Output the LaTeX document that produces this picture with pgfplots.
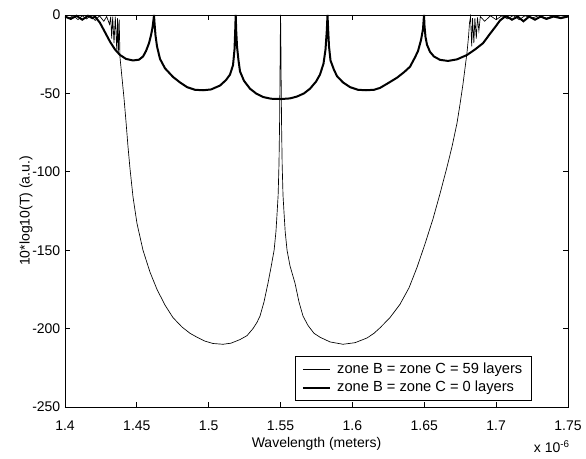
\documentclass[border=0pt]{standalone}
\usepackage{pgfplots}
\pgfplotsset{compat=1.18}
\usepackage{fontspec}
\setmainfont{Liberation Sans}

\pgfplotstableread{
x y
1.4000 -0.5
1.4030 -2
1.4060 -0.3
1.4090 -3
1.4120 -0.5
1.4150 -2.5
1.4180 -0.3
1.4210 -3.5
1.4240 -0.5
1.4270 -4
1.4290 -1
1.4310 -6
1.4318 -1
1.4325 -15
1.4332 -1
1.4341 -18
1.4350 -1
1.4360 -22
1.4366 -2
1.4371 -25
1.4377 -3
1.43827 -27
1.43966 -40
1.44105 -53
1.44245 -68
1.44384 -84
1.44523 -98
1.44732 -116
1.45010 -133
1.45427 -150
1.45915 -164
1.46402 -175
1.46958 -185
1.47515 -193
1.48141 -199
1.48698 -203
1.49185 -205.5
1.49742 -208
1.50298 -209.5
1.50994 -210
1.51551 -209.3
1.52177 -207
1.52664 -204.5
1.53082 -200
1.53360 -196
1.53569 -192
1.53847 -183
1.54125 -171
1.54334 -161
1.5455 -150
1.5468 -138
1.5476 -126
1.5483 -115
1.5489 -95
1.5493 -70
1.5496 -40
1.5498 -15
1.5500 0
1.5502 -15
1.5504 -40
1.5507 -70
1.5511 -95
1.5517 -115
1.5524 -126
1.5532 -138
1.5545 -150
1.55656 -160
1.56004 -171
1.56282 -183
1.56561 -192
1.56909 -198
1.57326 -203
1.57744 -205.5
1.58440 -208.5
1.59344 -210
1.60179 -209
1.61014 -206
1.61501 -203
1.61919 -199.5
1.62614 -193
1.63310 -184.5
1.63937 -174
1.64493 -161
1.65050 -146
1.65607 -130
1.66093 -114
1.66581 -97
1.66929 -84
1.67276 -69
1.67485 -57
1.67694 -44
1.67833 -34
1.67972 -24
1.68077 -14
1.68147 -5
1.6822 -1
1.6830 -20
1.6836 -2
1.6845 -18
1.6852 -2
1.6862 -15
1.6870 -1.5
1.6880 -10
1.6890 -1
1.6920 -4
1.6960 -0.5
1.7000 -3
1.7040 -0.5
1.7080 -2.5
1.7120 -0.3
1.7160 -3
1.7200 -0.5
1.7250 -2
1.7300 -0.3
1.7350 -2
1.7400 -0.3
1.7450 -1.5
1.7500 -0.5
}\thin

\pgfplotstableread{
x y
1.4000 -1
1.4040 -2.5
1.4080 -0.5
1.4120 -3
1.4160 -0.5
1.4190 -2
1.42087 -1
1.42435 -5
1.42783 -11
1.43131 -17
1.43479 -22
1.43827 -25.5
1.44245 -28
1.44732 -29
1.45149 -28.5
1.45427 -26.5
1.45636 -23
1.45845 -18
1.45984 -13
1.46089 -8
1.46158 -3
1.46193 0
1.46228 -5
1.46297 -13
1.46402 -20
1.46611 -28
1.46958 -34
1.47515 -39.5
1.48002 -43
1.48489 -46
1.49046 -47.7
1.49603 -48
1.50159 -47.5
1.50786 -45
1.51203 -41.5
1.51482 -38
1.51691 -32
1.51795 -22
1.51844 -10
1.51878 0
1.51913 -10
1.51969 -20
1.52073 -29
1.52178 -36
1.52456 -42
1.52873 -47
1.53291 -50
1.53778 -52.3
1.54335 -53.4
1.55031 -53.6
1.55657 -53.2
1.56144 -52
1.56631 -50
1.57049 -47
1.57466 -42.5
1.57744 -38
1.57988 -31
1.58127 -22
1.58217 -10
1.58266 0
1.58315 -10
1.58370 -20
1.58475 -29
1.58718 -35
1.58927 -39
1.59344 -43
1.59832 -46
1.60388 -47.7
1.60945 -48
1.61502 -47.7
1.61920 -46.5
1.62476 -43.5
1.63102 -40
1.63589 -36.5
1.64007 -33
1.64355 -27
1.64563 -23
1.64772 -16
1.64911 -9
1.64981 0
1.65016 -7
1.65085 -14
1.65190 -19
1.65398 -23.5
1.65677 -26.5
1.66094 -28.6
1.66650 -29.3
1.67277 -28.3
1.67973 -25.5
1.68529 -22
1.69086 -18
1.69573 -12
1.69990 -7
1.70269 -3.5
1.70547 -1.5
1.70756 -1
1.7110 -3
1.7150 -1
1.7190 -4
1.7230 -1
1.7270 -3
1.7310 -1
1.7350 -2.5
1.7400 -1
1.7450 -2
1.7500 -1
}\thick

\begin{document}
\begin{tikzpicture}
\begin{axis}[
  scale only axis, width=377.25pt, height=294pt,
  xmin=1.4, xmax=1.75, ymin=-250, ymax=0,
  xtick={1.4,1.45,1.5,1.55,1.6,1.65,1.7,1.75},
  xticklabels={1.4,1.45,1.5,1.55,1.6,1.65,1.7,1.75},
  ytick={-250,-200,-150,-100,-50,0},
  yticklabels={-250,-200,-150,-100,-50,0},
  tick align=inside, major tick length=3.75pt,
  tick style={black, line width=0.6pt},
  axis line style={line width=0.6pt},
  every tick label/.append style={font=\fontsize{10.5}{12.5}\selectfont},
  xticklabel style={yshift=-7pt},
  xlabel={Wavelength (meters)},
  ylabel={10*log10(T) (a.u.)},
  xlabel shift=-2pt,
  ylabel shift=-7pt,
  label style={font=\fontsize{10.5}{12.5}\selectfont},
  legend cell align=left,
  legend image code/.code={\draw[#1] (0pt,0pt) -- (20pt,0pt); \path (23pt,0pt);},
  legend style={at={(1,0)}, anchor=south east, xshift=-27pt, yshift=4.5pt,
    draw=black, line width=0.6pt, font=\fontsize{11}{13}\selectfont,
    inner xsep=5pt, inner ysep=3pt, row sep=0pt},
]
\addplot[black, line width=0.5pt] table[x=x,y=y] {\thin};
\addlegendentry{zone B = zone C = 59 layers}
\addplot[black, line width=1.5pt] table[x=x,y=y] {\thick};
\addlegendentry{zone B = zone C = 0 layers}
\end{axis}
\node[anchor=north east, inner sep=0pt, font=\fontsize{10.5}{12.5}\selectfont] at ([shift={(1.5pt,-25pt)}]current axis.south east) {x 10\textsuperscript{-6}};
\pgfresetboundingbox
\path ([shift={(-48.75pt,-39pt)}]current axis.south west) rectangle ([shift={(13.5pt,11.25pt)}]current axis.north east);
\end{tikzpicture}
\end{document}
